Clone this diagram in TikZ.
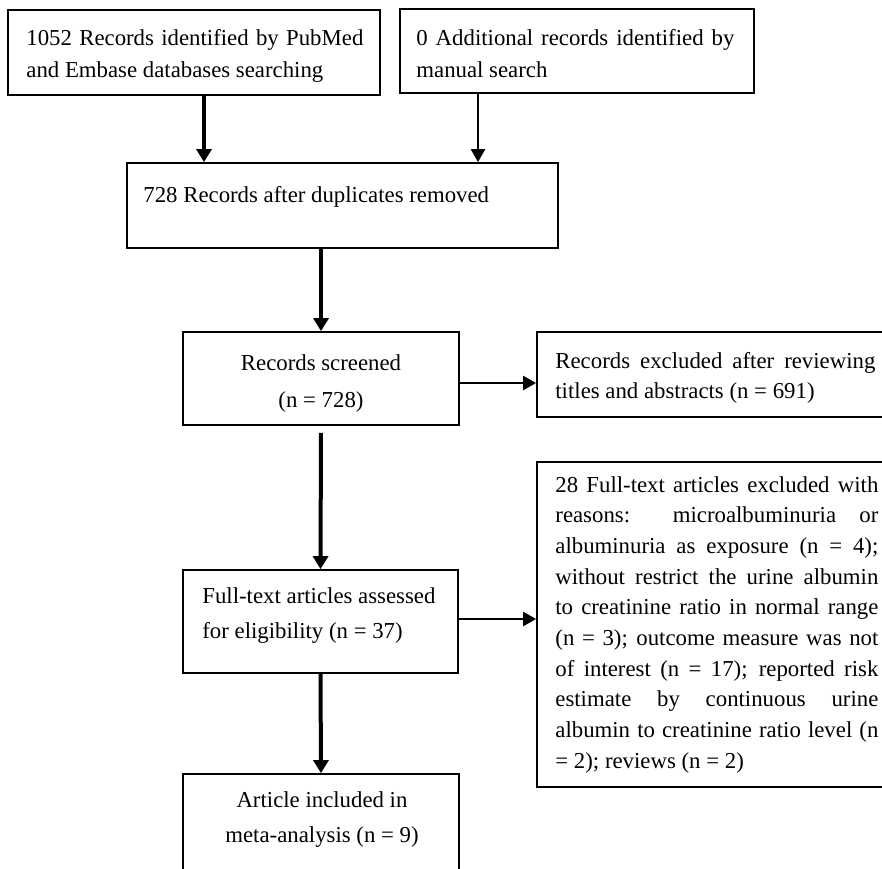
\documentclass[tikz,border=0pt]{standalone}
\usepackage{fontspec}
\setmainfont{Liberation Serif}
\usetikzlibrary{arrows.meta}
\tikzset{
  box/.style={draw=black, line width=0.9pt, rectangle, inner sep=0pt},
  txt/.style={inner sep=0pt, font=\fontsize{11.4pt}{15.35pt}\selectfont},
  thickarr/.style={line width=2pt, -{Triangle[length=6.5pt,width=7.5pt]}},
  thinarr/.style={line width=1.2pt, -{Triangle[length=6.5pt,width=7pt]}},
}
\begin{document}
\begin{tikzpicture}[x=0.5pt,y=-0.5pt]
\useasboundingbox (0,0) rectangle (882,868);
\clip (0,0) rectangle (882,868);
\fill[white] (0,0) rectangle (882,868);

% boxes
\node[box, minimum width=186pt, minimum height=42.5pt] (b1) at (194,52.5) {};
\node[box, minimum width=177pt, minimum height=42pt] (b2) at (577,51) {};
\node[box, minimum width=215.5pt, minimum height=42.5pt] (b3) at (342.5,205.5) {};
\node[box, minimum width=138pt, minimum height=46.5pt] (b4) at (321,378.5) {};
\node[box, minimum width=173.5pt, minimum height=42.5pt] (b5) at (710.5,374.5) {};
\node[box, minimum width=137.5pt, minimum height=51.5pt] (b6) at (320.5,621.5) {};
\node[box, minimum width=173.5pt, minimum height=162.5pt] (b7) at (710.5,624.5) {};
\node[box, minimum width=138pt, minimum height=50pt] (b8) at (321,824) {};

% texts
\node[txt, anchor=base west] (t1) at (26,45.5) {\parbox[t]{168.5pt}{\fontsize{11.4pt}{16pt}\selectfont
\makebox[168.5pt][s]{1052 Records identified by PubMed}\\
and Embase databases searching}};
\node[txt, anchor=base west] (t2) at (416,45.5) {\parbox[t]{159pt}{\fontsize{11.4pt}{16pt}\selectfont
\makebox[159pt][s]{0 Additional records identified by}\\
manual search}};
\node[txt, anchor=base west] (t3) at (143,202) {728 Records after duplicates removed};
\node[txt, anchor=base] (t4) at (321,370) {\parbox[t]{130pt}{\centering\fontsize{11.4pt}{18.5pt}\selectfont
Records screened\\(n = 728)}};
\node[txt, anchor=base west] (t5) at (555,368) {\parbox[t]{160pt}{\fontsize{11.4pt}{15pt}\selectfont
\makebox[160pt][s]{Records excluded after reviewing}\\
titles and abstracts (n = 691)}};
\node[txt, anchor=base west] (t6) at (202,603) {\parbox[t]{125pt}{\fontsize{11.4pt}{17.5pt}\selectfont
Full-text articles assessed\\
for eligibility (n = 37)}};
\node[txt, anchor=base west] (t7) at (555,492) {\parbox[t]{161.5pt}{\fontsize{11.4pt}{15.35pt}\selectfont
\makebox[161.5pt][s]{28 Full-text articles excluded with}\\
\makebox[161.5pt][s]{reasons: microalbuminuria or}\\
\makebox[161.5pt][s]{albuminuria as exposure (n = 4);}\\
\makebox[161.5pt][s]{without restrict the urine albumin}\\
\makebox[161.5pt][s]{to creatinine ratio in normal range}\\
\makebox[161.5pt][s]{(n = 3); outcome measure was not}\\
\makebox[161.5pt][s]{of interest (n = 17); reported risk}\\
\makebox[161.5pt][s]{estimate by continuous urine}\\
\makebox[161.5pt][s]{albumin to creatinine ratio level (n}\\
= 2); reviews (n = 2)}};
\node[txt, anchor=base] (t8) at (322,807) {\parbox[t]{130pt}{\centering\fontsize{11.4pt}{17.5pt}\selectfont
Article included in\\meta-analysis (n = 9)}};

% connectors
\coordinate (x1) at (204,0);
\coordinate (x2) at (478,0);
\coordinate (y4) at (0,383);
\coordinate (y6) at (0,619);
\draw[thickarr] (b1.south -| x1) -- (b3.north -| x1);
\draw[thinarr] (b2.south -| x2) -- (b3.north -| x2);
\draw[thickarr] (b3.south -| b4.north) -- (b4.north);
\draw[thinarr] (b4.east |- y4) -- (b5.west |- y4);
\draw[thickarr, shorten <=3.5pt] (b4.south) -- (b6.north);
\draw[thinarr] (b6.east |- y6) -- (b7.west |- y6);
\draw[thickarr] (b6.south) -- (b8.north);
\end{tikzpicture}
\end{document}
